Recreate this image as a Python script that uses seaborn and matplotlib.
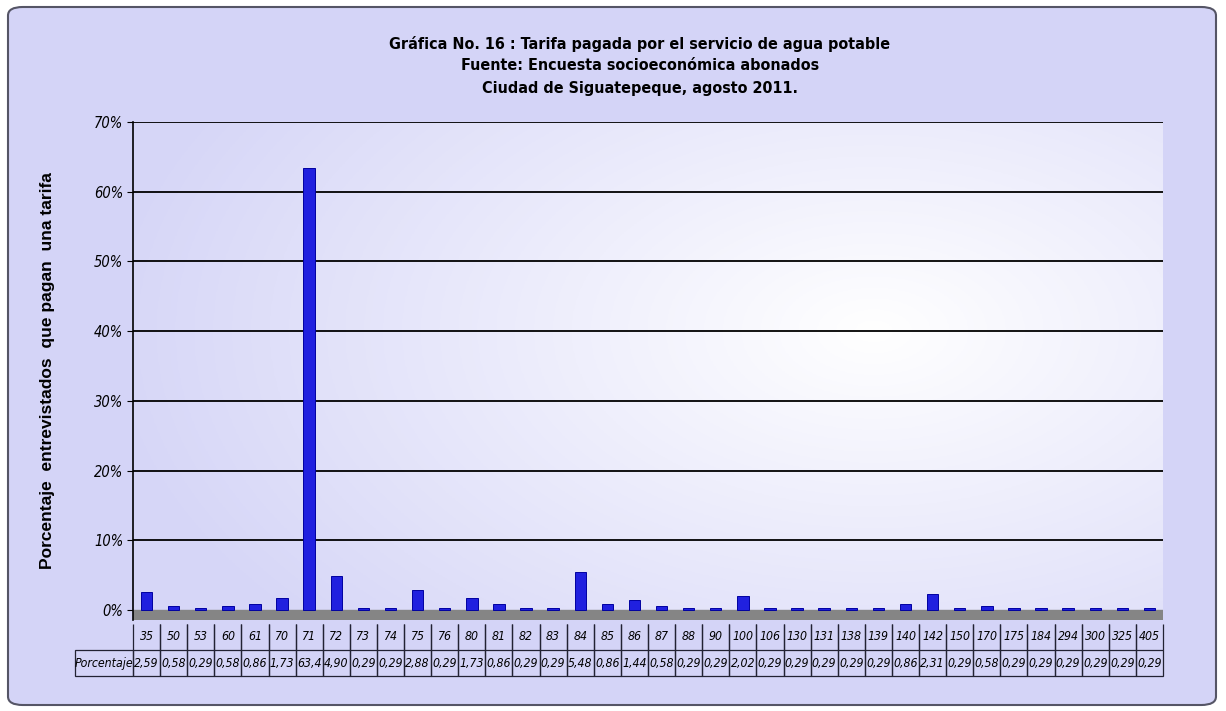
import numpy as np
import matplotlib
matplotlib.use("Agg")
import matplotlib.pyplot as plt
from matplotlib.patches import FancyBboxPatch
import seaborn as sns

tarifas = ["35", "50", "53", "60", "61", "70", "71", "72", "73", "74", "75", "76",
           "80", "81", "82", "83", "84", "85", "86", "87", "88", "90", "100", "106",
           "130", "131", "138", "139", "140", "142", "150", "170", "175", "184",
           "294", "300", "325", "405"]
porcentaje = [2.59, 0.58, 0.29, 0.58, 0.86, 1.73, 63.4, 4.90, 0.29, 0.29, 2.88, 0.29,
              1.73, 0.86, 0.29, 0.29, 5.48, 0.86, 1.44, 0.58, 0.29, 0.29, 2.02, 0.29,
              0.29, 0.29, 0.29, 0.29, 0.86, 2.31, 0.29, 0.58, 0.29, 0.29,
              0.29, 0.29, 0.29, 0.29]
yticks = [0, 10, 20, 30, 40, 50, 60, 70]

sns.set_style("white")
plt.rcParams["font.family"] = ["Liberation Sans Narrow", "DejaVu Sans"]
plt.rcParams["font.stretch"] = "condensed"
plt.rcParams["text.color"] = "black"
plt.rcParams["ytick.color"] = "black"
plt.rcParams["axes.labelcolor"] = "black"

W, H = 1226, 711
fig = plt.figure(figsize=(W / 100, H / 100), dpi=100)
fig.patch.set_facecolor("white")

# rounded lavender frame
frame = FancyBboxPatch((8 / W, 6 / H), 1208 / W, 698 / H,
                       boxstyle="round,pad=0,rounding_size=0.012",
                       transform=fig.transFigure, facecolor="#d4d4f7",
                       edgecolor="#555566", linewidth=1.5, zorder=-5)
fig.patches.append(frame)

left, right, top, bottom = 133, 1163, 122, 620
ax = fig.add_axes([left / W, 1 - bottom / H, (right - left) / W, (bottom - top) / H])
ax.set_facecolor("none")
ax.set_zorder(2)

# back wall gradient
gx, gy = np.meshgrid(np.linspace(0, 1, 300), np.linspace(0, 1, 200))
d = np.sqrt(((gx - 0.72) / 0.75) ** 2 + ((gy - 0.42) / 0.9) ** 2)
t = np.clip(d, 0, 1)
c0 = np.array([1.0, 1.0, 1.0])
c1 = np.array([0.84, 0.84, 0.97])
img = c0 + (c1 - c0) * t[..., None]
ax.imshow(img, extent=[0, 1, 0, 1], transform=ax.transAxes, aspect="auto", zorder=0)

# floor
ax.axhspan(-1.4, 0, color="#858585", zorder=1)

sns.barplot(x=tarifas, y=porcentaje, color="#0000ff", width=0.42,
            edgecolor="#0000a0", linewidth=0.7, ax=ax, zorder=3)

for v in yticks[1:]:
    ax.axhline(v, color="black", linewidth=1.3, zorder=2)

ax.set_ylim(-1.4, 70)
ax.set_xlim(-0.5, len(tarifas) - 0.5)
ax.set_yticks(yticks)
ax.set_yticklabels([f"{v}%" for v in yticks], fontsize=10.5, style="italic")
ax.tick_params(axis="y", length=4, color="black", pad=3, left=True)
ax.set_xticks([])
ax.set_xlabel("")
for s in ["top", "right", "bottom"]:
    ax.spines[s].set_visible(False)
ax.spines["left"].set_color("black")
ax.spines["left"].set_linewidth(1.2)

ax.set_ylabel("Porcentaje  entrevistados  que pagan  una tarifa",
              fontsize=12.5, fontweight="bold", family=["Liberation Sans", "DejaVu Sans"],
              fontstretch="normal", labelpad=28)

# data table under the axis
labels_pct = [f"{v:.2f}".replace(".", ",") if v < 10 else f"{v:.1f}".replace(".", ",")
              for v in porcentaje]
cell_text = [[""] + tarifas, ["Porcentaje"] + labels_pct]
col_w = [58 / 1088] + [1030 / 1088 / len(tarifas)] * len(tarifas)
tbl = ax.table(cellText=cell_text, colWidths=col_w, cellLoc="center",
               bbox=[(75 - left) / (right - left), -(676 - bottom) / (bottom - top),
                     (right - 75) / (right - left), 52 / (bottom - top)])
tbl.auto_set_font_size(False)
for (r, c), cell in tbl.get_celld().items():
    cell.set_facecolor("none")
    cell.set_edgecolor("#222233")
    cell.set_linewidth(0.9)
    cell.PAD = 0.02
    cell.get_text().set_fontsize(8.8)
    cell.get_text().set_fontstyle("italic")
    if r == 0 and c == 0:
        cell.visible_edges = ""
    elif r == 0:
        cell.visible_edges = "LR"

for i, line in enumerate(["Gráfica No. 16 : Tarifa pagada por el servicio de agua potable",
                          "Fuente: Encuesta socioeconómica abonados",
                          "Ciudad de Siguatepeque, agosto 2011."]):
    fig.text(0.522, 1 - (44 + 22 * i) / H, line, ha="center", va="center",
             fontsize=11.5, fontweight="bold")

fig.savefig("out.png", dpi=100)
